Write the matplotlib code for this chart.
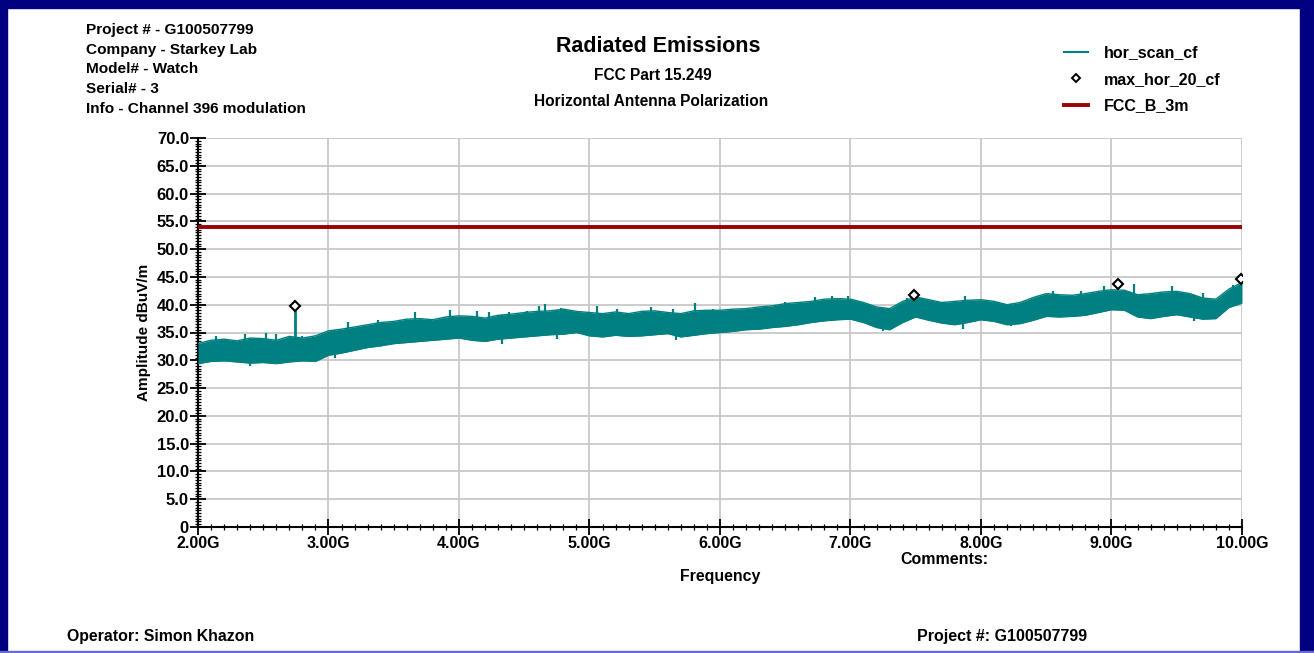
import matplotlib
matplotlib.use("Agg")
import matplotlib.pyplot as plt
from matplotlib.patches import Rectangle
from matplotlib.lines import Line2D
import numpy as np

plt.rcParams['font.family'] = ['Liberation Sans', 'DejaVu Sans']
plt.rcParams['font.weight'] = 'bold'

# ---- data (GHz, dBuV/m) ----
freq_ghz = [2.0, 2.1, 2.2, 2.3, 2.4, 2.5, 2.6, 2.7, 2.8, 2.9,
            3.0, 3.1, 3.2, 3.3, 3.4, 3.5, 3.6, 3.7, 3.8, 3.9,
            4.0, 4.1, 4.2, 4.3, 4.4, 4.5, 4.6, 4.7, 4.8, 4.9,
            5.0, 5.1, 5.2, 5.3, 5.4, 5.5, 5.6, 5.7, 5.8, 5.9,
            6.0, 6.1, 6.2, 6.3, 6.4, 6.5, 6.6, 6.7, 6.8, 6.9,
            7.0, 7.1, 7.2, 7.3, 7.4, 7.5, 7.6, 7.7, 7.8, 7.9,
            8.0, 8.1, 8.2, 8.3, 8.4, 8.5, 8.6, 8.7, 8.8, 8.9,
            9.0, 9.1, 9.2, 9.3, 9.4, 9.5, 9.6, 9.7, 9.8, 9.9, 10.0]
scan_lower = [29.4, 29.8, 29.9, 29.7, 29.5, 29.6, 29.4, 29.7, 29.9, 29.8,
              30.9, 31.3, 31.8, 32.3, 32.6, 33.0, 33.2, 33.4, 33.6, 33.8,
              34.0, 33.6, 33.4, 33.8, 34.0, 34.2, 34.4, 34.6, 34.7, 35.0,
              34.4, 34.2, 34.5, 34.3, 34.4, 34.6, 34.8, 34.2, 34.5, 34.8,
              35.0, 35.2, 35.5, 35.6, 35.9, 36.1, 36.4, 36.8, 37.1, 37.3,
              37.4, 36.8, 35.9, 35.5, 36.8, 37.8, 37.2, 36.7, 36.4, 36.8,
              37.3, 37.0, 36.4, 36.6, 37.2, 37.9, 37.8, 37.9, 38.1, 38.6,
              39.1, 39.0, 37.8, 37.5, 37.9, 38.2, 37.8, 37.4, 37.5, 39.5, 40.3]
scan_upper = [33.0, 33.6, 33.8, 33.5, 34.0, 33.9, 33.6, 34.3, 34.0, 34.4,
              35.3, 35.6, 36.0, 36.4, 36.8, 37.0, 37.4, 37.5, 37.3, 37.8,
              38.0, 37.9, 37.6, 38.1, 38.3, 38.6, 38.8, 38.9, 39.2, 38.8,
              38.6, 38.4, 38.7, 38.4, 38.8, 38.9, 38.6, 38.4, 38.9, 39.0,
              39.0, 39.2, 39.3, 39.6, 39.8, 40.2, 40.4, 40.6, 41.0, 41.1,
              41.0, 40.4, 39.6, 39.3, 40.6, 41.4, 40.9, 40.4, 40.6, 40.8,
              40.9, 40.6, 40.0, 40.4, 41.3, 42.0, 41.8, 41.7, 42.0, 42.4,
              42.7, 42.6, 41.8, 42.0, 42.3, 42.4, 42.0, 41.2, 41.0, 42.8, 44.0]
# individual noise peaks above the band
peak_freq = [2.14, 2.36, 2.52, 2.60, 2.80, 3.15, 3.38, 3.66, 3.93,
             4.14, 4.23, 4.38, 4.52, 4.61, 4.66, 4.78, 5.06, 5.21, 5.47,
             5.64, 5.81, 5.95, 6.50, 6.73, 6.86, 6.98, 7.43, 7.88,
             8.55, 8.77, 8.94, 9.17, 9.46, 9.70, 9.93]
peak_level = [34.3, 34.7, 34.9, 34.7, 34.3, 36.8, 37.3, 38.7, 39.0,
              38.8, 38.7, 38.7, 38.9, 39.7, 40.2, 39.4, 39.8, 39.2, 39.6,
              39.2, 40.3, 39.2, 40.5, 41.3, 41.5, 41.5, 41.2, 41.5,
              42.4, 42.5, 43.3, 43.8, 43.3, 42.1, 43.6]
# individual noise dips below the band
dip_freq = [2.40, 3.05, 4.33, 4.75, 5.66, 7.25, 7.86, 8.23, 9.63]
dip_level = [29.0, 30.4, 32.9, 33.9, 33.6, 35.2, 35.6, 36.1, 37.1]
spike_freq = [2.743]
spike_top = [39.6]
max_freq = [2.743, 7.49, 9.05, 9.99]
max_level = [39.8, 41.7, 43.7, 44.6]
limit_freq = [2.0, 10.0]
limit_level = [54.0, 54.0]

teal = '#008080'
red = '#990000'
navy = '#000080'

fig = plt.figure(figsize=(13.14, 6.53), dpi=100)
fig.patch.set_facecolor('white')

# frame
fig.patches.append(Rectangle((0, 0), 7/1314, 1, transform=fig.transFigure, color=navy, zorder=0))
fig.patches.append(Rectangle((0, 1-8/653), 1, 8/653, transform=fig.transFigure, color=navy, zorder=0))
fig.patches.append(Rectangle((1-14/1314, 0), 14/1314, 1, transform=fig.transFigure, color=navy, zorder=0))
fig.patches.append(Rectangle((0, 0), 1, 2/653, transform=fig.transFigure, color='#6a6ac8', zorder=0))

ax = fig.add_axes([198/1314, 1-527/653, (1242-198)/1314, (527-138)/653])
ax.set_xlim(2.0, 10.0)
ax.set_ylim(0, 70)

ax.fill_between(freq_ghz, scan_lower, scan_upper, color=teal, lw=0, zorder=3)
ax.plot(freq_ghz, scan_upper, color=teal, lw=1.0, zorder=3)
ax.plot(freq_ghz, scan_lower, color=teal, lw=1.0, zorder=3)
base_hi = np.interp(peak_freq, freq_ghz, scan_lower)
ax.vlines(peak_freq, base_hi, peak_level, color=teal, lw=1.6, zorder=3)
base_lo = np.interp(dip_freq, freq_ghz, scan_upper)
ax.vlines(dip_freq, dip_level, base_lo, color=teal, lw=1.6, zorder=3)
ax.vlines(spike_freq, np.interp(spike_freq, freq_ghz, scan_lower), spike_top,
          color=teal, lw=2, zorder=3)
ax.plot(limit_freq, limit_level, color=red, lw=2.8, zorder=4)
ax.plot(max_freq, max_level, linestyle='none', marker='D', markersize=5,
        markerfacecolor='white', markeredgecolor='black', markeredgewidth=1.5, zorder=5)

xt = np.arange(2, 10.01, 1)
ax.set_xticks(xt)
ax.set_xticklabels(['%.2fG' % v for v in xt])
ax.set_xticks(np.arange(2, 10.001, 0.1), minor=True)
yt = np.arange(0, 70.01, 5)
ax.set_yticks(yt)
ax.set_yticklabels(['0' if v == 0 else '%.1f' % v for v in yt])
ax.set_yticks(np.arange(0, 70.01, 0.5), minor=True)

ax.grid(True, which='major', color='#c8c8c8', lw=1.3, zorder=0)
ax.set_axisbelow(True)
for s in ['top', 'right']:
    ax.spines[s].set_visible(False)
for s in ['left', 'bottom']:
    ax.spines[s].set_linewidth(1.5)
ax.tick_params(which='major', direction='inout', length=11, width=1.3, pad=1)
ax.tick_params(which='minor', direction='inout', length=5, width=0.9)
ax.tick_params(axis='x', which='major', labelsize=11.5)
ax.tick_params(axis='y', which='major', labelsize=12)
for lbl in ax.get_xticklabels() + ax.get_yticklabels():
    lbl.set_fontweight('bold')

ax.set_xlabel('Frequency', fontsize=11.4, fontweight='bold', labelpad=13)
ax.set_ylabel('Amplitude dBuV/m', fontsize=11, fontweight='bold', labelpad=4)

# header text
info = ['Project # - G100507799', 'Company - Starkey Lab', 'Model# - Watch',
        'Serial# - 3', 'Info - Channel 396 modulation']
for i, t in enumerate(info):
    fig.text(86/1314, 1-(30 + i*19.7)/653, t, fontsize=11.1, fontweight='bold', va='center', ha='left')
fig.text(658/1314, 1-47/653, 'Radiated Emissions', fontsize=15.5, fontweight='bold', ha='center', va='center')
fig.text(653/1314, 1-76/653, 'FCC Part 15.249', fontsize=11.2, fontweight='bold', ha='center', va='center')
fig.text(651/1314, 1-102/653, 'Horizontal Antenna Polarization', fontsize=11.2, fontweight='bold', ha='center', va='center')

# legend
leg_items = [('hor_scan_cf', Line2D([0], [0], color=teal, lw=1.5)),
             ('max_hor_20_cf', Line2D([0], [0], linestyle='none', marker='D', markersize=4,
                                      markerfacecolor='white', markeredgecolor='black', markeredgewidth=1.4)),
             ('FCC_B_3m', Line2D([0], [0], color=red, lw=2.8))]
leg = fig.legend([h for _, h in leg_items], [l for l, _ in leg_items],
                 loc='upper left', bbox_to_anchor=(1050/1314, 1-31/653), frameon=False,
                 prop={'size': 11.5, 'weight': 'bold'}, handlelength=1.5, labelspacing=0.72,
                 handletextpad=1.0)

fig.text(900/1314, 1-560/653, 'Comments:', fontsize=11.5, fontweight='bold', ha='left', va='center')
fig.text(67/1314, 1-637/653, 'Operator: Simon Khazon', fontsize=11.4, fontweight='bold', ha='left', va='center')
fig.text(917/1314, 1-637/653, 'Project #: G100507799', fontsize=11.5, fontweight='bold', ha='left', va='center')

fig.savefig('out.png', dpi=100, facecolor='white')
